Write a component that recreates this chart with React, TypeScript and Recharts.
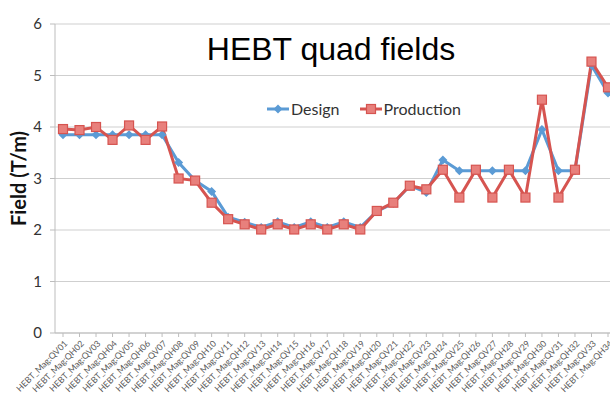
import { LineChart, Line, XAxis, YAxis, CartesianGrid, Legend } from 'recharts'

const magnets = [
  'HEBT_Mag:QV01', 'HEBT_Mag:QH02', 'HEBT_Mag:QV03', 'HEBT_Mag:QH04', 'HEBT_Mag:QV05',
  'HEBT_Mag:QH06', 'HEBT_Mag:QV07', 'HEBT_Mag:QH08', 'HEBT_Mag:QV09', 'HEBT_Mag:QH10',
  'HEBT_Mag:QV11', 'HEBT_Mag:QH12', 'HEBT_Mag:QV13', 'HEBT_Mag:QH14', 'HEBT_Mag:QV15',
  'HEBT_Mag:QH16', 'HEBT_Mag:QV17', 'HEBT_Mag:QH18', 'HEBT_Mag:QV19', 'HEBT_Mag:QH20',
  'HEBT_Mag:QV21', 'HEBT_Mag:QH22', 'HEBT_Mag:QV23', 'HEBT_Mag:QH24', 'HEBT_Mag:QV25',
  'HEBT_Mag:QH26', 'HEBT_Mag:QV27', 'HEBT_Mag:QH28', 'HEBT_Mag:QV29', 'HEBT_Mag:QH30',
  'HEBT_Mag:QV31', 'HEBT_Mag:QH32', 'HEBT_Mag:QV33', 'HEBT_Mag:QH34'
]

const design = [
  3.85, 3.85, 3.85, 3.85, 3.85, 3.85, 3.85, 3.31, 2.96, 2.75,
  2.25, 2.15, 2.05, 2.16, 2.05, 2.16, 2.05, 2.16, 2.05, 2.36,
  2.52, 2.86, 2.73, 3.36, 3.15, 3.15, 3.15, 3.15, 3.15, 3.95,
  3.15, 3.15, 5.2, 4.66
]

const production = [
  3.96, 3.94, 4.0, 3.75, 4.03, 3.75, 4.01, 3.0, 2.96, 2.53,
  2.21, 2.11, 2.01, 2.11, 2.01, 2.11, 2.01, 2.11, 2.01, 2.37,
  2.53, 2.86, 2.79, 3.17, 2.63, 3.17, 2.63, 3.17, 2.63, 4.53,
  2.63, 3.17, 5.27, 4.77
]

const yTicks = [0, 1, 2, 3, 4, 5, 6]

const data = magnets.map((name, i) => ({ name, design: design[i], production: production[i] }))

const BLUE = '#5b9bd5'
const RED = '#d65450'
const RED_FILL = '#e8807c'
const FONT = 'Lato, "Open Sans", sans-serif'

const SquareDot = (props: any) => {
  const { cx, cy, index } = props
  if (cx == null || cy == null) return null
  return <rect key={'p' + index} x={cx - 4.5} y={cy - 4.5} width={9} height={9} fill={RED_FILL} stroke={RED} strokeWidth={1.2} />
}

const DiamondDot = (props: any) => {
  const { cx, cy, index } = props
  if (cx == null || cy == null) return null
  return <path key={'d' + index} d={`M${cx},${cy - 4.5}L${cx + 4.5},${cy}L${cx},${cy + 4.5}L${cx - 4.5},${cy}Z`} fill={BLUE} />
}

// rotated category labels, end of text sits just under the point
const MagTick = (props: any) => {
  const { x, y, payload } = props
  const tx = x + 3
  const ty = y + 3
  return (
    <text x={tx} y={ty} dy="0.35em" textAnchor="end" transform={`rotate(-45, ${tx}, ${ty})`}
      fontSize={8.7} fill="#5a5a5a" fontFamily={FONT}>
      {payload.value}
    </text>
  )
}

const LegendBox = () => (
  <div style={{ display: 'flex', alignItems: 'center', fontFamily: FONT, fontSize: 16, color: '#333' }}>
    <svg width={24} height={12}>
      <line x1={0} y1={6} x2={22} y2={6} stroke={BLUE} strokeWidth={3} />
      <path d="M11,1.5L15.5,6L11,10.5L6.5,6Z" fill={BLUE} />
    </svg>
    <span style={{ marginRight: 20 }}>Design</span>
    <svg width={24} height={12}>
      <line x1={0} y1={6} x2={22} y2={6} stroke={RED} strokeWidth={3} />
      <rect x={6.5} y={1.5} width={9} height={9} fill={RED_FILL} stroke={RED} strokeWidth={1.2} />
    </svg>
    <span>Production</span>
  </div>
)

export default function App() {
  return (
    <div style={{ position: 'absolute', left: 0, top: 0, width: 610, height: 401, overflow: 'hidden', background: '#fff' }}>
      <LineChart width={620} height={401} data={data} margin={{ top: 24, right: 4, bottom: 0, left: 0 }}>
        <CartesianGrid vertical={false} stroke="#cfcfcf" strokeWidth={1.2} />
        <XAxis dataKey="name" interval={0} tick={<MagTick />} height={68} padding={{ left: 8, right: 8 }}
          stroke="#bdbdbd" tickSize={4} tickMargin={2} />
        <YAxis domain={[0, 6]} ticks={yTicks} width={55} stroke="#bdbdbd" tickSize={5} tickMargin={8}
          tick={{ fontSize: 15, fill: '#333', fontFamily: FONT }}
          label={{
            content: (p: any) => {
              const vb = p.viewBox
              const cy = vb.y + vb.height / 2
              return (
                <text x={18} y={cy} textAnchor="middle" dominantBaseline="central" transform={`rotate(-90, 18, ${cy})`}
                  fontSize={20} fontWeight="bold" fill="#111" fontFamily={FONT}>
                  Field (T/m)
                </text>
              )
            }
          }} />
        <Legend layout="horizontal" verticalAlign="middle" align="center" content={<LegendBox />}
          wrapperStyle={{ top: 99, left: 267, width: 'auto' }} />
        <Line dataKey="design" name="Design" stroke={BLUE} strokeWidth={3} dot={DiamondDot} isAnimationActive={false} />
        <Line dataKey="production" name="Production" stroke={RED} strokeWidth={3} dot={SquareDot} isAnimationActive={false} />
      </LineChart>
      <div style={{ position: 'absolute', left: 0, top: 33, width: 662, textAlign: 'center', fontFamily: '"Liberation Sans", Arial, sans-serif', fontSize: 32, lineHeight: '32px', color: '#000' }}>
        HEBT quad fields
      </div>
    </div>
  )
}
